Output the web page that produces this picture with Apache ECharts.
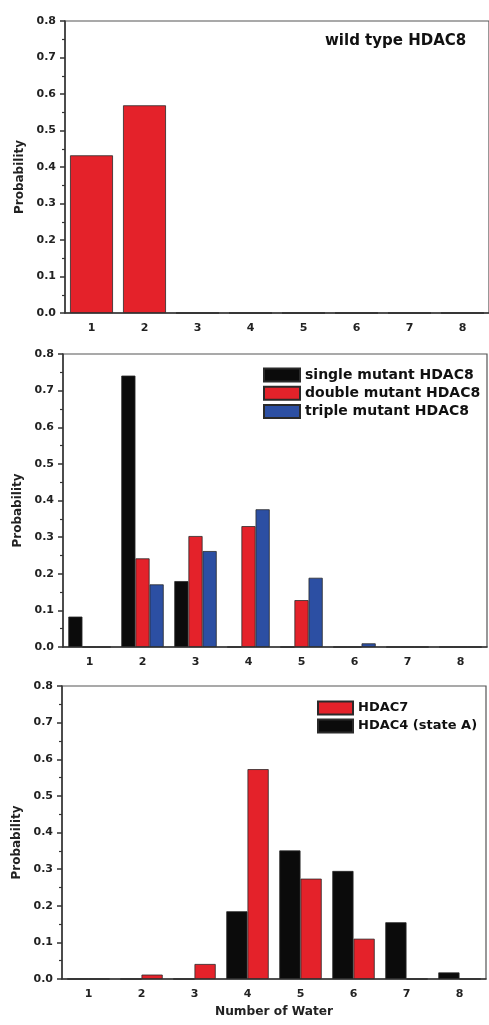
<!DOCTYPE html>
<html>
<head>
<meta charset="utf-8">
<script src="https://cdn.jsdelivr.net/npm/echarts@6/dist/echarts.min.js"></script>
<style>
html,body{margin:0;padding:0;background:#fff;}
#chart{width:489px;height:1025px;}
</style>
</head>
<body>
<div id="chart"></div>
<script>
// ---- data ----
var categories = ['1', '2', '3', '4', '5', '6', '7', '8'];
var yTicks = [0, 0.1, 0.2, 0.3, 0.4, 0.5, 0.6, 0.7, 0.8];
var wildType = [0.432, 0.569, 0, 0, 0, 0, 0, 0];
var singleMutant = [0.083, 0.741, 0.18, 0, 0, 0, 0, 0];
var doubleMutant = [0, 0.242, 0.303, 0.33, 0.128, 0, 0, 0];
var tripleMutant = [0, 0.171, 0.262, 0.376, 0.189, 0.01, 0, 0];
var hdac4 = [0, 0, 0, 0.185, 0.351, 0.295, 0.155, 0.018];
var hdac7 = [0, 0.012, 0.041, 0.573, 0.274, 0.11, 0, 0];
var names = {
  wild: 'wild type HDAC8',
  single: 'single mutant HDAC8',
  dbl: 'double mutant HDAC8',
  triple: 'triple mutant HDAC8',
  h7: 'HDAC7',
  h4: 'HDAC4 (state A)'
};

// ---- styling ----
var FONT = "'DejaVu Sans', 'Liberation Sans', Arial, sans-serif";
var RED = '#e4222a', BLACK = '#0b0b0b', BLUE = '#2c4fa3';
var AXIS = '#333';

var grids = [
  {left: 65, top: 21, width: 428, height: 292},
  {left: 63, top: 354, width: 424, height: 293},
  {left: 62, top: 686, width: 424, height: 293}
];
grids.forEach(function (g) { g.show = true; g.borderColor = '#555'; g.borderWidth = 1.2; g.backgroundColor = 'transparent'; });

var xAxes = [], yAxes = [];
for (var i = 0; i < 3; i++) {
  xAxes.push({
    type: 'category', gridIndex: i, data: categories, position: 'bottom',
    axisLine: {lineStyle: {color: AXIS, width: 1.5}},
    axisTick: {alignWithLabel: true, length: 5, lineStyle: {color: AXIS, width: 1.5}},
    axisLabel: {fontFamily: FONT, fontWeight: 'bold', fontSize: 11, color: '#222', margin: 10},
    name: i === 2 ? 'Number of Water' : '',
    nameLocation: 'middle', nameGap: 27,
    nameTextStyle: {fontFamily: FONT, fontWeight: 'bold', fontSize: 12.2, color: '#222'}
  });
  // boundary (minor) ticks
  xAxes.push({
    type: 'category', gridIndex: i, data: categories, position: 'bottom', offset: 0,
    axisLine: {show: false},
    axisTick: {alignWithLabel: false, length: 3, lineStyle: {color: AXIS, width: 1.2}},
    axisLabel: {show: false}
  });
  yAxes.push({
    type: 'value', gridIndex: i, min: yTicks[0], max: yTicks[yTicks.length - 1], interval: 0.1,
    axisLine: {show: true, lineStyle: {color: AXIS, width: 1.5}},
    axisTick: {show: true, length: 5, lineStyle: {color: AXIS, width: 1.5}},
    minorTick: {show: true, splitNumber: 2, length: 3, lineStyle: {color: AXIS, width: 1.2}},
    splitLine: {show: false},
    axisLabel: {fontFamily: FONT, fontWeight: 'bold', fontSize: 11, color: '#222', margin: 9,
      formatter: function (v) { return v.toFixed(1); }},
    name: 'Probability', nameLocation: 'middle', nameGap: 38,
    nameTextStyle: {fontFamily: FONT, fontWeight: 'bold', fontSize: 12, color: '#222', padding: [0, 20, 0, 0]}
  });
}

function bar(name, data, color, gi) {
  return {
    type: 'bar', name: name, data: data, xAxisIndex: gi * 2, yAxisIndex: gi,
    barGap: '0%', barCategoryGap: gi === 0 ? '19%' : '20%',
    itemStyle: {color: color, borderColor: '#2a2a2a', borderWidth: 0.8},
    emphasis: {disabled: true}
  };
}

var legendText1 = {fontFamily: FONT, fontWeight: 'bold', fontSize: 14, color: '#111', lineHeight: 18};
var legendText2 = {fontFamily: FONT, fontWeight: 'bold', fontSize: 13, color: '#111', lineHeight: 18};

var option = {
  animation: false,
  backgroundColor: '#fff',
  title: {
    text: names.wild, left: 325, top: 34, padding: 0,
    textStyle: {fontFamily: FONT, fontWeight: 'bold', fontSize: 15, color: '#111'}
  },
  grid: grids,
  xAxis: xAxes,
  yAxis: yAxes,
  legend: [
    {data: [names.single, names.dbl, names.triple], orient: 'vertical', left: 263, top: 366, padding: 0,
      itemWidth: 36, itemHeight: 13, itemGap: 0.3, icon: 'rect', textStyle: legendText1, selectedMode: false},
    {data: [names.h7, names.h4], orient: 'vertical', left: 317, top: 699, padding: 0,
      itemWidth: 35, itemHeight: 13, itemGap: 0, icon: 'rect', textStyle: legendText2, selectedMode: false}
  ],
  series: [
    bar(names.wild, wildType, RED, 0),
    bar(names.single, singleMutant, BLACK, 1),
    bar(names.dbl, doubleMutant, RED, 1),
    bar(names.triple, tripleMutant, BLUE, 1),
    bar(names.h4, hdac4, BLACK, 2),
    bar(names.h7, hdac7, RED, 2)
  ]
};

var chart = echarts.init(document.getElementById('chart'), null, {renderer: 'canvas'});
chart.setOption(option);
</script>
</body>
</html>
